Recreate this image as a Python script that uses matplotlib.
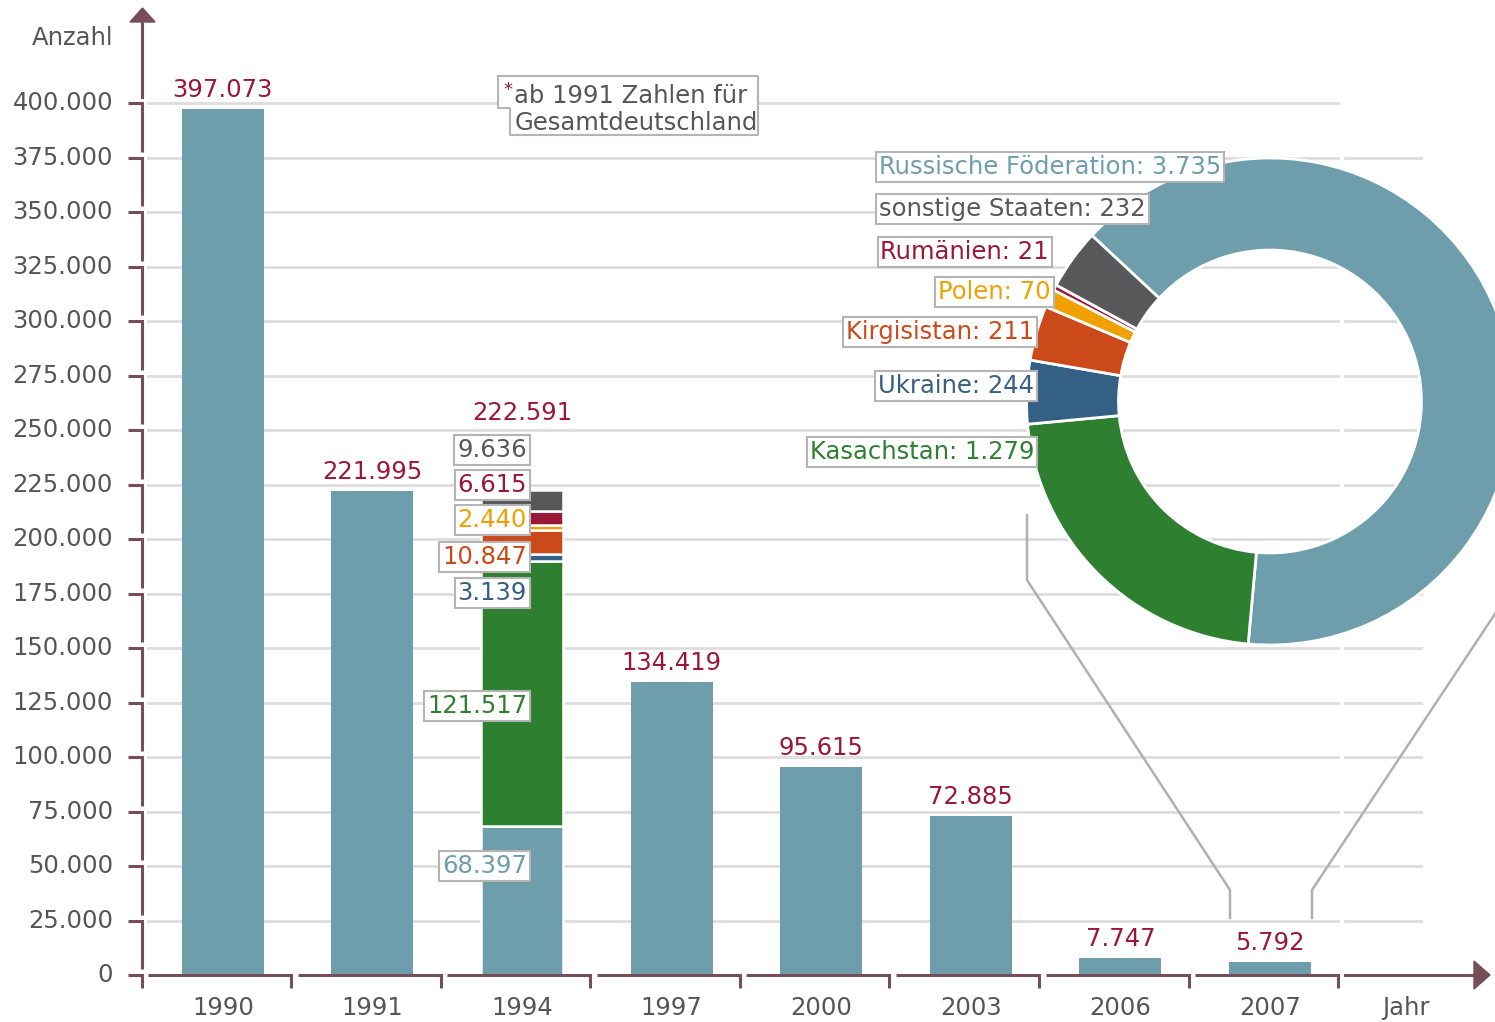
import matplotlib
matplotlib.use("Agg")
import matplotlib.pyplot as plt

years = ['1990', '1991', '1994', '1997', '2000', '2003', '2006', '2007']
totals = [397073, 221995, 222591, 134419, 95615, 72885, 7747, 5792]

countries = ['Russische Föderation', 'Kasachstan', 'Ukraine', 'Kirgisistan',
             'Polen', 'Rumänien', 'sonstige Staaten']
values_1994 = [68397, 121517, 3139, 10847, 2440, 6615, 9636]
values_2007 = [3735, 1279, 244, 211, 70, 21, 232]
country_colors = ['#6e9dab', '#2e8030', '#356086', '#cc4a1a',
                  '#f0a000', '#9b1737', '#58585a']

y_ticks = list(range(0, 400001, 25000))

BAR = '#6e9dab'
RED = '#9b1737'
AXIS = '#764e5a'
GRID = '#dddddd'
TXT = '#555555'
BOXEDGE = '#b4b4b4'
FS = 17.5

plt.rcParams['font.family'] = ['DejaVu Sans']


def fmt(v):
    return f"{v:,}".replace(',', '.')


# pixel -> data helpers (only for placing decorations)
def px(x):
    return (x - 148) / 149.6


def py(y):
    return (975 - y) * 400000 / 872


fig = plt.figure(figsize=(14.95, 10.22), dpi=100)
ax = fig.add_axes([0, 0, 1, 1])
ax.set_xlim(px(0), px(1495))
ax.set_ylim(py(1022), py(0))
ax.axis('off')

# gridlines
for v in y_ticks[1:]:
    ax.plot([px(148), px(1338)], [v, v], color=GRID, lw=2, zorder=1)
    if v < 400000:
        ax.plot([px(1345), px(1421)], [v, v], color=GRID, lw=2, zorder=1)

# y axis (segments with bracket ticks)
gap = 6 * 400000 / 872
for v in y_ticks:
    low = v - 25000 + gap if v > 0 else py(988)
    ax.plot([px(128), px(142), px(142)], [v, v, low], color=AXIS, lw=2.2,
            solid_joinstyle='miter', solid_capstyle='butt', zorder=3)
    ax.text(px(113), v, fmt(v), ha='right', va='center', fontsize=FS, color=TXT)
ax.plot([px(142), px(142)], [py(97), py(20)], color=AXIS, lw=2.2, zorder=3)
ax.fill([px(130), px(155), px(142.5)], [py(22), py(22), py(8)], color=AXIS, zorder=3)
ax.text(px(113), py(38), 'Anzahl', ha='right', va='center', fontsize=FS, color=TXT)

# x axis
for k in range(len(years)):
    ax.plot([k, k + 0.956, k + 0.956], [0, 0, py(988)], color=AXIS, lw=2.2,
            solid_joinstyle='miter', solid_capstyle='butt', zorder=3)
ax.plot([len(years), px(1476)], [0, 0], color=AXIS, lw=2.2, zorder=3)
ax.fill([px(1474), px(1474), px(1490)], [py(961), py(989), py(975)], color=AXIS, zorder=3)
ax.text(px(1406), py(1008), 'Jahr', ha='center', va='center', fontsize=FS, color=TXT)

# bars
bw = 82 / 149.6
for i, (yr, tot) in enumerate(zip(years, totals)):
    ax.text(i + 0.5, py(1008), yr, ha='center', va='center', fontsize=FS, color=TXT)
    if yr == '1994':
        bottom = 0
        for val, col in zip(values_1994, country_colors):
            ax.bar(i + 0.5, val, bottom=bottom, width=bw, color=col,
                   edgecolor='white', linewidth=1.8, zorder=2)
            bottom += val
        ax.text(i + 0.5, py(413), fmt(tot), ha='center', va='center',
                fontsize=FS, color=RED)
    else:
        ax.bar(i + 0.5, tot, width=bw, color=BAR, zorder=2)
        ax.annotate(fmt(tot), (i + 0.5, tot), xytext=(0, 5), textcoords='offset points',
                    ha='center', va='bottom', fontsize=FS, color=RED)

# stack labels 1994
stack_label_y = [866, 706, 593, 557, 520, 485, 450]
for val, col, ly in zip(values_1994, country_colors, stack_label_y):
    ax.text(px(527), py(ly), fmt(val), ha='right', va='center', fontsize=FS, color=col,
            zorder=5, bbox=dict(boxstyle='square,pad=0.12', fc='white', ec=BOXEDGE, lw=1.5))

# note box
nx = [498, 758, 758, 510, 510, 498, 498]
ny = [76, 76, 135, 135, 108, 108, 76]
ax.fill([px(x) for x in nx], [py(y) for y in ny], color='white', zorder=4)
ax.plot([px(x) for x in nx], [py(y) for y in ny], color=BOXEDGE, lw=1.5, zorder=4)
ax.text(px(503), py(90), '*', ha='left', va='center', fontsize=13, color=RED, zorder=5)
ax.text(px(514), py(96), 'ab 1991 Zahlen für', ha='left', va='center',
        fontsize=FS, color=TXT, zorder=5)
ax.text(px(515), py(123), 'Gesamtdeutschland', ha='left', va='center',
        fontsize=FS, color=TXT, zorder=5)

# connector lines from 2007 bar to donut
ax.plot([px(1027), px(1027), px(1230), px(1230)], [py(515), py(580), py(890), py(918)],
        color='#b0b0b0', lw=1.8, zorder=1)
ax.plot([px(1530), px(1312), px(1312)], [py(561), py(890), py(918)],
        color='#b0b0b0', lw=1.8, zorder=1)

# donut for 2007
cx, cy, R = 1270, 401.5, 243.5
dax = fig.add_axes([(cx - R) / 1495, (1022 - cy - R) / 1022, 2 * R / 1495, 2 * R / 1022])
wedges, _ = dax.pie(values_2007, colors=country_colors, startangle=137, counterclock=False,
                    radius=1, wedgeprops=dict(width=0.378, edgecolor='white', linewidth=2))
for w in wedges:
    w.set_clip_on(False)
dax.set_xlim(-1, 1)
dax.set_ylim(-1, 1)
dax.set_aspect('equal')
dax.axis('off')

# donut labels
donut_label_pos = [(1225, 167), (1038, 452), (1038, 386), (1038, 332),
                   (1055, 292), (1053, 252), (1150, 209)]
for name, val, col, (lx, ly) in zip(countries, values_2007, country_colors, donut_label_pos):
    fig.text((lx - 4) / 1495, 1 - ly / 1022, f'{name}: {fmt(val)}', ha='right', va='center',
             fontsize=FS, color=col, zorder=6,
             bbox=dict(boxstyle='square,pad=0.12', fc='white', ec=BOXEDGE, lw=1.5))

fig.savefig('out.png', dpi=100)
